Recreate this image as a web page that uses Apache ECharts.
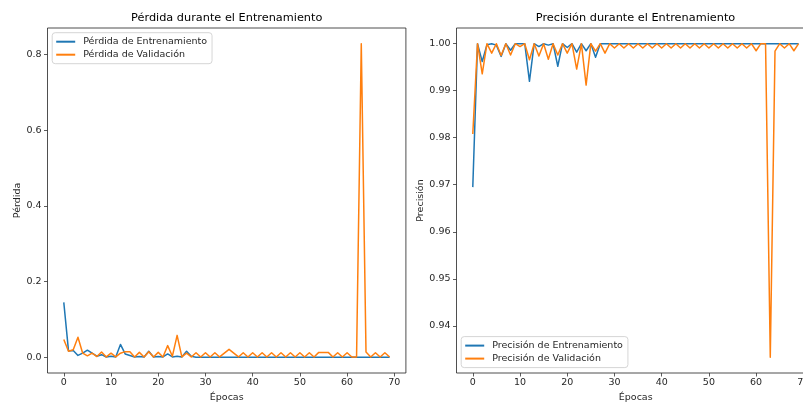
<!DOCTYPE html>
<html>
<head>
<meta charset="utf-8">
<script src="https://cdn.jsdelivr.net/npm/echarts@6/dist/echarts.min.js"></script>
<style>
html,body{margin:0;padding:0;background:#fff;}
#chart{width:803px;height:402px;}
</style>
</head>
<body>
<div id="chart"></div>
<script>
const epochs = [0,1,2,3,4,5,6,7,8,9,10,11,12,13,14,15,16,17,18,19,20,21,22,23,24,25,26,27,28,29,30,31,32,33,34,35,36,37,38,39,40,41,42,43,44,45,46,47,48,49,50,51,52,53,54,55,56,57,58,59,60,61,62,63,64,65,66,67,68,69];

const trainLoss = [0.145,0.017,0.018,0.005,0.011,0.019,0.011,0.003,0.007,0.001,
  0.003,0.001,0.034,0.009,0.005,0.001,0.002,0.001,0.016,0.001,
  0.002,0.001,0.009,0.001,0.003,0.001,0.016,0.003,0.0003,0.0003,
  0.0003,0.0002,0.0002,0.0002,0.0002,0.0002,0.0002,0.0002,0.0002,0.0002,
  0.0002,0.0002,0.0002,0.0002,0.0002,0.0002,0.0002,0.0002,0.0002,0.0002,
  0.0002,0.0002,0.0002,0.0002,0.0002,0.0002,0.0002,0.0002,0.0002,0.0002,
  0.0002,0.0002,0.0002,0.0002,0.0002,0.0002,0.0002,0.0002,0.0002,0.0002];

const valLoss = [0.047,0.016,0.020,0.053,0.011,0.004,0.011,0.002,0.014,0.001,
  0.011,0.001,0.011,0.015,0.015,0.001,0.013,0.001,0.015,0.001,
  0.013,0.001,0.031,0.003,0.058,0.001,0.011,0.001,0.012,0.001,
  0.012,0.001,0.012,0.001,0.011,0.021,0.011,0.001,0.012,0.001,
  0.012,0.001,0.012,0.001,0.012,0.001,0.012,0.001,0.012,0.001,
  0.012,0.001,0.012,0.001,0.013,0.013,0.013,0.001,0.012,0.001,
  0.012,0.001,0.001,0.8286,0.014,0.001,0.012,0.001,0.012,0.001];

const trainAcc = [0.9695,1.0,0.9962,0.9998,1.0,0.9997,0.9973,1.0,0.9986,1.0,
  1.0,1.0,0.9920,1.0,0.9994,1.0,0.9997,1.0,0.9952,1.0,
  0.9992,1.0,0.9982,1.0,0.9985,1.0,0.9971,1.0,1.0,1.0,
  1.0,1.0,1.0,1.0,1.0,1.0,1.0,1.0,1.0,1.0,
  1.0,1.0,1.0,1.0,1.0,1.0,1.0,1.0,1.0,1.0,
  1.0,1.0,1.0,1.0,1.0,1.0,1.0,1.0,1.0,1.0,
  1.0,1.0,1.0,1.0,1.0,1.0,1.0,1.0,1.0,1.0];

const valAcc = [0.9808,1.0,0.9936,1.0,0.9980,1.0,0.9975,1.0,0.9976,1.0,
  0.9994,1.0,0.9966,1.0,0.9974,1.0,0.9967,1.0,0.9976,1.0,
  0.9980,1.0,0.9946,1.0,0.9912,1.0,0.9984,1.0,0.9980,1.0,
  0.9991,1.0,0.9991,1.0,0.9991,1.0,0.9991,1.0,0.9991,1.0,
  0.9991,1.0,0.9991,1.0,0.9991,1.0,0.9991,1.0,0.9991,1.0,
  0.9991,1.0,0.9991,1.0,0.9991,1.0,0.9991,1.0,0.9991,1.0,
  0.9985,1.0,1.0,0.9333,0.9984,1.0,0.9991,1.0,0.9985,1.0];

const xTicks = [0,10,20,30,40,50,60,70];
const lossTicks = [0.0,0.2,0.4,0.6,0.8];
const accTicks = [0.94,0.95,0.96,0.97,0.98,0.99,1.00];

const BLUE = '#1f77b4', ORANGE = '#ff7f0e';
const FONT = 'DejaVu Sans';
const TXT = '#262626';
const TICK_FS = 9.5;

function pairs(vals){ return epochs.map((e,i)=>[e, vals[i]]); }

function xAxisCfg(gi){
  return {
    type:'value', gridIndex:gi, min:-3.45, max:72.45,
    name:'Épocas', nameLocation:'middle', nameGap:19,
    nameTextStyle:{fontFamily:FONT,fontSize:TICK_FS,color:TXT},
    axisLine:{show:false,onZero:false},
    axisTick:{show:true,inside:false,length:3.5,lineStyle:{color:'#333',width:0.8},customValues:xTicks},
    axisLabel:{show:true,margin:5,fontFamily:FONT,fontSize:TICK_FS,color:TXT,customValues:xTicks,
      formatter:v=>String(Math.round(v))},
    splitLine:{show:false}
  };
}
function yAxisCfg(gi,min,max,ticks,dec,name,gap){
  return {
    type:'value', gridIndex:gi, min:min, max:max,
    name:name, nameLocation:'middle', nameGap:gap, nameRotate:90,
    nameTextStyle:{fontFamily:FONT,fontSize:TICK_FS,color:TXT},
    axisLine:{show:false,onZero:false},
    axisTick:{show:true,inside:false,length:3.5,lineStyle:{color:'#333',width:0.8},customValues:ticks},
    axisLabel:{show:true,margin:6,fontFamily:FONT,fontSize:TICK_FS,color:TXT,customValues:ticks,
      formatter:v=>v.toFixed(dec)},
    splitLine:{show:false}
  };
}
function lineSeries(name,xi,yi,vals,color){
  return {
    name:name, type:'line', xAxisIndex:xi, yAxisIndex:yi, data:pairs(vals),
    symbol:'none', showSymbol:false, animation:false,
    lineStyle:{color:color,width:1.5,join:'round'}, itemStyle:{color:color}
  };
}
const legendBase = {
  orient:'vertical', itemWidth:19, itemHeight:2, itemGap:3, icon:'rect',
  padding:[4,5,4,4], borderColor:'#d6d6d6', borderWidth:1, borderRadius:3,
  backgroundColor:'rgba(255,255,255,0.8)',
  textStyle:{fontFamily:FONT,fontSize:TICK_FS,color:TXT,padding:[0,0,0,3]}
};

const chart = echarts.init(document.getElementById('chart'), null, {renderer:'canvas'});
chart.setOption({
  animation:false,
  backgroundColor:'#fff',
  title:[
    {text:'Pérdida durante el Entrenamiento', left:226.7, top:12.5, textAlign:'center', padding:0,
     textStyle:{fontFamily:FONT,fontSize:11.3,fontWeight:'normal',color:'#000'}},
    {text:'Precisión durante el Entrenamiento', left:635.5, top:12.5, textAlign:'center', padding:0,
     textStyle:{fontFamily:FONT,fontSize:11.3,fontWeight:'normal',color:'#000'}}
  ],
  grid:[
    {left:47.5, top:28, width:358.4, height:345, outerBoundsMode:'none', containLabel:false,
     show:true, borderColor:'#222', borderWidth:0.8, backgroundColor:'transparent'},
    {left:456.5, top:28, width:358.4, height:345, outerBoundsMode:'none', containLabel:false,
     show:true, borderColor:'#222', borderWidth:0.8, backgroundColor:'transparent'}
  ],
  xAxis:[xAxisCfg(0), xAxisCfg(1)],
  yAxis:[
    yAxisCfg(0,-0.0414,0.8700,lossTicks,1,'Pérdida',24),
    yAxisCfg(1,0.92996,1.00334,accTicks,2,'Precisión',29)
  ],
  legend:[
    Object.assign({}, legendBase, {left:52.2, top:32.7, data:['Pérdida de Entrenamiento','Pérdida de Validación']}),
    Object.assign({}, legendBase, {left:461.2, bottom:34.4, data:['Precisión de Entrenamiento','Precisión de Validación']})
  ],
  series:[
    lineSeries('Pérdida de Entrenamiento',0,0,trainLoss,BLUE),
    lineSeries('Pérdida de Validación',0,0,valLoss,ORANGE),
    lineSeries('Precisión de Entrenamiento',1,1,trainAcc,BLUE),
    lineSeries('Precisión de Validación',1,1,valAcc,ORANGE)
  ]
});
</script>
</body>
</html>
